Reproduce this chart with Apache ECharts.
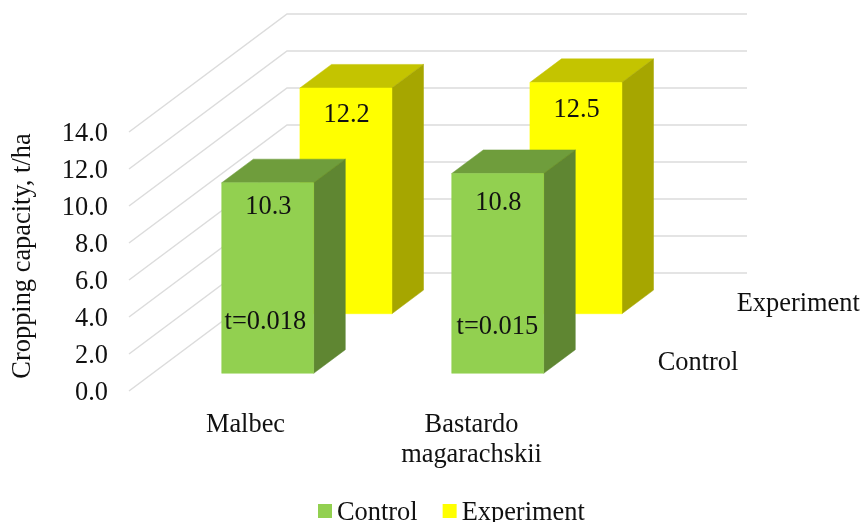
<!DOCTYPE html>
<html>
<head>
<meta charset="utf-8">
<style>html,body{margin:0;padding:0;background:#fff}#chart{width:862px;height:522px}</style>
<script src="https://cdn.jsdelivr.net/npm/echarts@6/dist/echarts.min.js"></script>
</head>
<body>
<div id="chart"></div>
<script>
// Cropping capacity by grape variety, drawn as a three-dimensional column chart.
const categories = ['Malbec', 'Bastardo\nmagarachskii'];
const seriesNames = ['Control', 'Experiment'];
const controlValues = [10.3, 10.8];
const experimentValues = [12.2, 12.5];
const tTests = ['t=0.018', 't=0.015'];
const yTicks = [0, 2, 4, 6, 8, 10, 12, 14];

// Oblique projection of the floor: how far its back edge sits from its front edge.
const DEPTH_X = 158;
const DEPTH_Y = -118;
const BAR_SHARE = 0.4;
const BAR_DEPTH = 0.2;
const SERIES_DEPTH_X = [0.15, 0.645];
const SERIES_DEPTH_Y = [0.15, 0.655];
const FONT_SIZE = 26.4;
const FONT_FAMILY = '"Liberation Serif", "Times New Roman", serif';
const FONT = FONT_SIZE + 'px ' + FONT_FAMILY;
const TEXT = '#111';
const RICH_TEXT = { fontSize: FONT_SIZE, color: TEXT, fontFamily: FONT_FAMILY };

const palette = [
  { front: '#92D050', top: '#6F9D3C', side: '#5F8632' },
  { front: '#FFFF00', top: '#C4C400', side: '#A6A600' }
];
// How far each value label hangs below the top of its column, and where the t labels sit.
const valueDrop = [[22.5, 27.5], [25, 26]];
const tLabelShift = [[-3, 53], [-1, 48]];

function text(x, y, str, align) {
  return {
    type: 'text', x: x + 0.7, y: y + 2, z2: 10,
    style: { text: str, fill: TEXT, font: FONT, align: align || 'center', verticalAlign: 'middle' }
  };
}

function poly(points, fill) {
  return { type: 'polygon', shape: { points }, style: { fill, stroke: fill, lineWidth: 0.5 } };
}

// One column: front, top and side faces, projected back along the floor diagonal.
function renderColumn(seriesIndex) {
  return function (params, api) {
    const cat = api.value(0);
    const value = api.value(1);
    const colours = palette[seriesIndex];
    const slot = api.size([1, 0])[0];
    const base = api.coord([cat, 0]);
    const head = api.coord([cat, value]);
    const ox = SERIES_DEPTH_X[seriesIndex] * DEPTH_X, oy = SERIES_DEPTH_Y[seriesIndex] * DEPTH_Y;
    const dx = BAR_DEPTH * DEPTH_X, dy = BAR_DEPTH * DEPTH_Y;
    const half = slot * BAR_SHARE / 2;
    const l = base[0] + ox - half, r = base[0] + ox + half;
    const b = base[1] + oy, t = head[1] + oy;
    const children = [
      poly([[l, t], [r, t], [r + dx, t + dy], [l + dx, t + dy]], colours.top),
      poly([[r, t], [r + dx, t + dy], [r + dx, b + dy], [r, b]], colours.side),
      poly([[l, t], [r, t], [r, b], [l, b]], colours.front),
      text((l + r) / 2, t + valueDrop[seriesIndex][cat], value.toFixed(1))
    ];
    if (seriesIndex === 0) {
      children.push(text((l + r) / 2 + tLabelShift[cat][0], b - tLabelShift[cat][1], tTests[cat]));
    }
    return { type: 'group', children };
  };
}

// Gridline that runs up the side wall, then along the back wall.
function renderWallLine(params, api) {
  const sys = params.coordSys;
  const y = api.coord([0, api.value(1)])[1];
  return {
    type: 'polyline',
    shape: {
      points: [
        [sys.x, y],
        [sys.x + DEPTH_X, y + DEPTH_Y],
        [sys.x + sys.width + DEPTH_X, y + DEPTH_Y]
      ]
    },
    style: { fill: null, stroke: '#DCDCDC', lineWidth: 1.5 }
  };
}

// Series names written along the depth axis, right of the floor.
function renderDepthLabel(params, api) {
  const sys = params.coordSys;
  const i = api.value(0);
  const y0 = api.coord([0, 0])[1];
  const share = i === 0 ? 0.25 : 0.75;
  return text(sys.x + sys.width + share * DEPTH_X + 28.5, y0 + share * DEPTH_Y, seriesNames[i], 'left');
}

// Category labels sit slightly off their slot centres, so each gets its own rich style.
function categoryLabel(value, index) {
  return value.split('\n').map(line => '{c' + index + '|' + line + '}').join('\n');
}

const chart = echarts.init(document.getElementById('chart'), null, { renderer: 'canvas' });
chart.setOption({
  animation: false,
  backgroundColor: '#fff',
  textStyle: { fontFamily: FONT_FAMILY },
  grid: { left: 129, top: 132, width: 460, height: 259, outerBoundsMode: 'none' },
  legend: {
    data: seriesNames,
    left: 318,
    top: 500,
    padding: 0,
    icon: 'rect',
    itemWidth: 14,
    itemHeight: 14,
    itemGap: 25,
    formatter: name => '{l|' + name + '}',
    textStyle: { color: TEXT, padding: [4, 0, 0, 0], rich: { l: RICH_TEXT } }
  },
  xAxis: {
    type: 'category',
    data: categories,
    axisLine: { show: false },
    axisTick: { show: false },
    axisLabel: {
      color: TEXT, margin: 19, formatter: categoryLabel,
      rich: {
        c0: Object.assign({ lineHeight: 30, padding: [0, 0, 0, 3] }, RICH_TEXT),
        c1: Object.assign({ lineHeight: 30, padding: [0, 5, 0, 0] }, RICH_TEXT)
      }
    }
  },
  yAxis: {
    type: 'value',
    min: 0,
    max: 14,
    interval: 2,
    axisLine: { show: false },
    axisTick: { show: false },
    splitLine: { show: false },
    axisLabel: {
      color: TEXT, margin: 21,
      padding: [4, 0, 0, 0],
      formatter: v => '{v|' + v.toFixed(1) + '}',
      rich: { v: RICH_TEXT }
    },
    name: 'Cropping capacity, t/ha',
    nameLocation: 'middle',
    nameRotate: 90,
    nameGap: 93,
    nameTextStyle: { fontSize: FONT_SIZE, color: TEXT, padding: [0, 0, 0, 11], fontFamily: FONT_FAMILY }
  },
  series: [
    {
      name: 'Walls', type: 'custom', renderItem: renderWallLine, silent: true, z: 1,
      data: yTicks.map(v => [0, v]), encode: { x: 0, y: 1 }
    },
    {
      name: seriesNames[1], type: 'custom', renderItem: renderColumn(1), z: 2,
      itemStyle: { color: palette[1].front },
      data: experimentValues.map((v, i) => [i, v]), encode: { x: 0, y: 1 }
    },
    {
      name: seriesNames[0], type: 'custom', renderItem: renderColumn(0), z: 3,
      itemStyle: { color: palette[0].front },
      data: controlValues.map((v, i) => [i, v]), encode: { x: 0, y: 1 }
    },
    {
      name: 'Depth axis', type: 'custom', renderItem: renderDepthLabel, silent: true, z: 4,
      data: seriesNames.map((n, i) => [i, 0]), encode: { x: 0, y: 1 }
    }
  ]
});
</script>
</body>
</html>
